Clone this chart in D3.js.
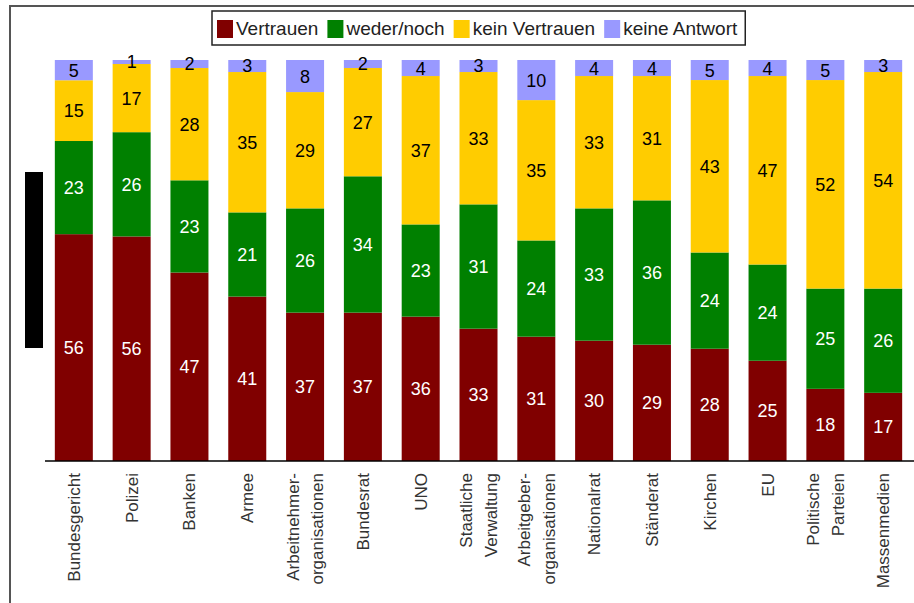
<!DOCTYPE html>
<html><head><meta charset="utf-8">
<script src="https://cdn.jsdelivr.net/npm/d3@7"></script>
<style>
html,body{margin:0;padding:0;background:#fff;}
svg{display:block;font-family:"Liberation Sans",Arial,sans-serif;}
</style></head>
<body>
<svg id="c" width="914" height="603"></svg>
<script>
const categories = ["Bundesgericht","Polizei","Banken","Armee","Arbeitnehmer-\norganisationen","Bundesrat","UNO","Staatliche\nVerwaltung","Arbeitgeber-\norganisationen","Nationalrat","Ständerat","Kirchen","EU","Politische\nParteien","Massenmedien"];
const seriesNames = ["Vertrauen","weder/noch","kein Vertrauen","keine Antwort"];
const vertrauen    = [56,56,47,41,37,37,36,33,31,30,29,28,25,18,17];
const wederNoch    = [23,26,23,21,26,34,23,31,24,33,36,24,24,25,26];
const keinVertrauen= [15,17,28,35,29,27,37,33,35,33,31,43,47,52,54];
const keineAntwort = [5,1,2,3,8,2,4,3,10,4,4,5,4,5,3];
const colors = ["#800000","#008000","#ffcc00","#9999ff"];
const labelColors = ["#fff","#fff","#000","#000"];

const svg = d3.select("#c");
const seriesArrays = [vertrauen, wederNoch, keinVertrauen, keineAntwort];
const rows = categories.map((c,i)=>{
  const r = {cat:c};
  seriesNames.forEach((s,j)=>r[s]=seriesArrays[j][i]);
  return r;
});

// frame
svg.append("line").attr("x1",9).attr("x2",914).attr("y1",6).attr("y2",6).attr("stroke","#555").attr("stroke-width",2);
svg.append("line").attr("x1",10).attr("x2",10).attr("y1",5).attr("y2",603).attr("stroke","#555").attr("stroke-width",2);

const x = d3.scaleBand().domain(categories).range([45,912]).paddingInner(0.3426).paddingOuter(0.17);
const y = d3.scaleLinear().domain([0,1]).range([461,60]);

const stack = d3.stack().keys(seriesNames).offset(d3.stackOffsetExpand);
const stacked = stack(rows);

const g = svg.append("g");
const layers = g.selectAll("g.layer").data(stacked).join("g").attr("class","layer")
  .attr("fill",(d,i)=>colors[i]);
layers.selectAll("rect").data(d=>d).join("rect")
  .attr("x",d=>x(d.data.cat)).attr("width",x.bandwidth())
  .attr("y",d=>y(d[1])).attr("height",d=>y(d[0])-y(d[1]));

// value labels
stacked.forEach((layer,i)=>{
  g.append("g").selectAll("text").data(layer).join("text")
    .attr("x",d=>x(d.data.cat)+x.bandwidth()/2)
    .attr("y",d=>(y(d[0])+y(d[1]))/2)
    .attr("dy","0.36em")
    .attr("text-anchor","middle")
    .attr("font-size",18)
    .attr("fill",labelColors[i])
    .text(d=>d.data[layer.key]);
});

// x axis
const ax = svg.append("g").attr("transform","translate(0,461)")
  .call(d3.axisBottom(x).tickSize(0).tickSizeOuter(0).tickFormat(""));
ax.select(".domain").remove();
svg.append("line").attr("x1",45).attr("x2",914).attr("y1",461).attr("y2",461).attr("stroke","#000").attr("stroke-width",1.5);
ax.selectAll(".tick").each(function(d){
  const lines = d.split("\n");
  const t = d3.select(this).append("text")
    .attr("transform","rotate(-90)")
    .attr("x",-12).attr("y",0)
    .attr("text-anchor","end")
    .attr("font-size",17)
    .attr("fill","#333");
  const lh = 1.45;
  lines.forEach((ln,k)=>{
    t.append("tspan").attr("x",-12)
      .attr("dy", k===0 ? (0.35 - (lines.length-1)*lh/2)+"em" : lh+"em")
      .text(ln);
  });
});

// black bar (redacted axis)
svg.append("rect").attr("x",25).attr("y",172).attr("width",18).attr("height",176).attr("fill","#000");

// legend
const lg = svg.append("g");
const box = lg.append("rect").attr("x",212).attr("y",11).attr("height",34).attr("fill","#fff").attr("stroke","#222").attr("stroke-width",1.5);
let cx = 217;
seriesNames.forEach((s,i)=>{
  lg.append("rect").attr("x",cx).attr("y",20).attr("width",16).attr("height",18).attr("fill",colors[i]);
  const t = lg.append("text").attr("x",cx+19).attr("y",35).attr("font-size",19).attr("fill","#222").text(s);
  cx += 19 + t.node().getComputedTextLength() + 9;
});
box.attr("width",cx - 212 - 1);
</script>
</body></html>
